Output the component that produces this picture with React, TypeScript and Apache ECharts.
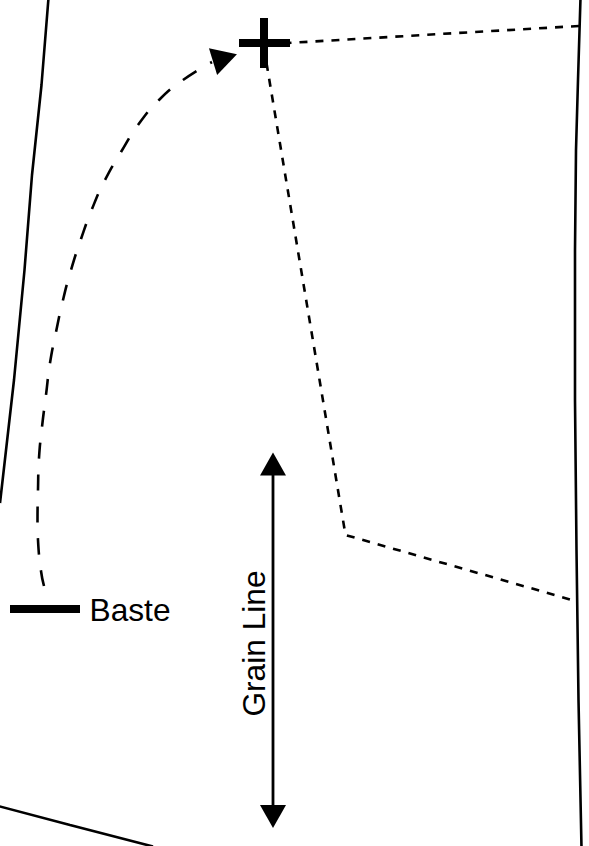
import React, { useEffect, useRef } from "react";
import * as echarts from "echarts";

type P = [number, number];
const leftEdge: P[] = [[48.5, -2], [41.5, 85], [32, 175], [24.5, 270], [14, 380], [0, 503]];
const rightEdge: P[] = [[580.5, -2], [578, 80], [576, 150], [575, 250], [575, 400], [576.5, 550], [578.5, 700], [581.5, 848]];
const bottomEdge: P[] = [[-2, 806], [70, 825], [153, 846.5]];
const topDash: P[] = [[579, 26], [440, 34], [288, 43]];
const pocketDash: P[] = [[266.5, 63], [345.5, 535], [572, 600]];
const curveDash: P[] = [[44, 586], [41, 571], [38, 540], [37.5, 522], [38, 490], [39, 458], [42, 427], [46, 395], [50, 363], [56, 332], [63, 300], [71, 270], [81, 239], [92, 209], [105, 180], [121, 152], [138, 125], [159, 100], [183, 80], [212, 62]];
const plusH: P[] = [[239, 43], [290, 43]];
const plusV: P[] = [[264, 18], [264, 68]];
const basteBar: P[] = [[10, 609], [80, 609]];
const grainLine: P[] = [[273, 472], [273, 808]];
const arrowUp: P[] = [[273, 464]];
const arrowDown: P[] = [[273, 816.5]];
const arrowCurve: P[] = [[225, 58]];
const basteAt: P[] = [[89.5, 610]];
const grainAt: P[] = [[254, 643.5]];
const baste = "Baste";
const grain = "Grain Line";

const line = (data: P[], width: number, dash?: number[], smooth = false) => ({
  type: "line", data, smooth, showSymbol: false, symbol: "none", silent: true,
  lineStyle: { color: "#000", width, type: dash ?? "solid", cap: "butt", opacity: 1 },
});
const tri = (data: P[], size: number[], rotate: number) => ({
  type: "scatter", data, symbol: "triangle", symbolSize: size, symbolRotate: rotate,
  silent: true, itemStyle: { color: "#000", opacity: 1 },
});
const textMark = (data: P[], text: string, rotate: number, align: string) => ({
  type: "scatter", data, symbolSize: 0, silent: true, itemStyle: { opacity: 1 },
  label: { show: true, position: "inside", formatter: text, rotate, fontFamily: "Liberation Sans", fontSize: 31.7, color: "#000", align, verticalAlign: "middle" },
});

export default function App() {
  const ref = useRef<HTMLDivElement>(null);
  useEffect(() => {
    document.body.style.margin = "0";
    const chart = echarts.init(ref.current!, undefined, { renderer: "svg" });
    chart.setOption({
      animation: false,
      backgroundColor: "#fff",
      grid: { left: 0, right: 0, top: 0, bottom: 0 },
      xAxis: { type: "value", min: 0, max: 589, show: false },
      yAxis: { type: "value", min: 0, max: 846, inverse: true, show: false },
      series: [
        line(leftEdge, 2.6),
        line(rightEdge, 2.6),
        line(bottomEdge, 2.6),
        line(topDash, 2.6, [8, 8]),
        line(pocketDash, 2.6, [8, 8]),
        line(curveDash, 2.6, [16, 16], true),
        line(plusH, 8),
        line(plusV, 8),
        line(basteBar, 8),
        line(grainLine, 2.8),
        tri(arrowUp, [26, 23], 0),
        tri(arrowDown, [26, 23], 180),
        tri(arrowCurve, [28, 25], -73),
        textMark(basteAt, baste, 0, "left"),
        textMark(grainAt, grain, 90, "center"),
      ],
    });
    return () => chart.dispose();
  }, []);
  return <div ref={ref} style={{ width: 589, height: 846 }} />;
}
